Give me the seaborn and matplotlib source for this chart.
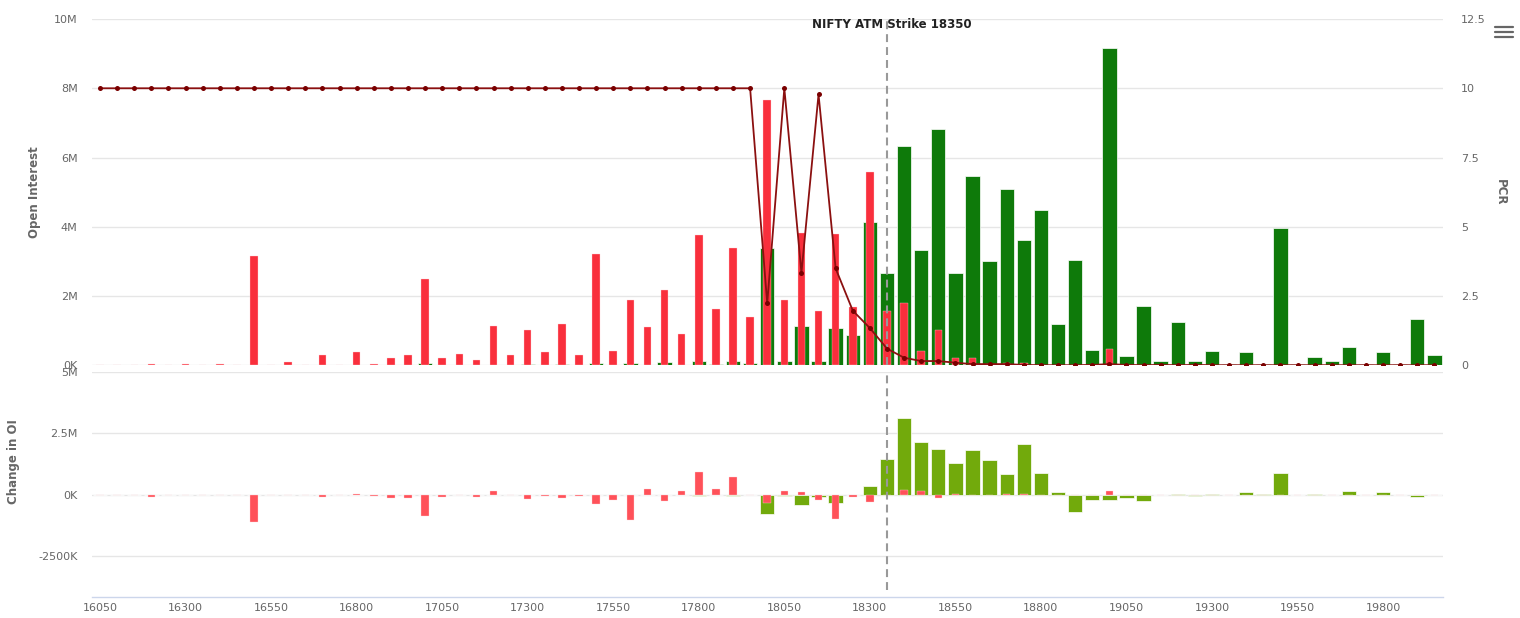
import numpy as np
import pandas as pd
import matplotlib
matplotlib.use("Agg")
import matplotlib.pyplot as plt
import seaborn as sns
from matplotlib.lines import Line2D
import matplotlib.transforms as mtransforms

# ---------------- data ----------------
strikes = [str(s) for s in range(16050, 20000, 50)]  # 79 strike categories

call_oi = [0, 0, 0, 0, 0, 0, 0, 0, 0, 0,
           0, 0, 0, 0, 0, 0, 0, 0, 0, 0.06,
           0.01, 0.02, 0, 0.02, 0, 0.04, 0, 0.04, 0, 0.06,
           0, 0.06, 0, 0.10, 0, 0.13, 0.03, 0.13, 0.06, 3.39,
           0.12, 1.15, 0.14, 1.09, 0.87, 4.13, 2.67, 6.34, 3.32, 6.82,
           2.67, 5.46, 3.02, 5.08, 3.62, 4.49, 1.21, 3.05, 0.46, 9.16,
           0.28, 1.72, 0.12, 1.25, 0.12, 0.43, 0.03, 0.40, 0.04, 3.96,
           0.04, 0.25, 0.12, 0.53, 0.04, 0.40, 0.03, 1.34, 0.31]

put_oi = [0, 0, 0, 0.03, 0, 0.03, 0, 0.03, 0, 3.15,
          0, 0.09, 0, 0.31, 0, 0.40, 0.03, 0.22, 0.31, 2.49,
          0.22, 0.34, 0.15, 1.15, 0.31, 1.03, 0.40, 1.20, 0.31, 3.22,
          0.43, 1.90, 1.12, 2.18, 0.90, 3.76, 1.62, 3.39, 1.40, 7.66,
          1.90, 3.83, 1.58, 3.79, 1.70, 5.57, 1.57, 1.80, 0.43, 1.03,
          0.21, 0.21, 0.05, 0.08, 0.08, 0.02, 0.01, 0.01, 0.01, 0.49,
          0.01, 0.01, 0.01, 0.01, 0.01, 0.01, 0.01, 0.01, 0.01, 0.01,
          0.01, 0.01, 0.01, 0.01, 0.01, 0.01, 0.01, 0.01, 0.01]

pcr = [10, 10, 10, 10, 10, 10, 10, 10, 10, 10,
       10, 10, 10, 10, 10, 10, 10, 10, 10, 10,
       10, 10, 10, 10, 10, 10, 10, 10, 10, 10,
       10, 10, 10, 10, 10, 10, 10, 10, 10, 2.24,
       10, 3.34, 9.78, 3.50, 1.98, 1.35, 0.61, 0.28, 0.16, 0.16,
       0.10, 0.05, 0.05, 0.05, 0.02, 0.01, 0.01, 0.01, 0.02, 0.05,
       0.02, 0.01, 0.02, 0.01, 0.02, 0.01, 0.01, 0.01, 0.01, 0.01,
       0.01, 0.01, 0.01, 0.01, 0.01, 0.01, 0.01, 0.01, 0.01]

call_chg = [0, 0, 0, 0, 0, 0, 0, 0, 0, 0,
            0, 0, 0, 0, 0, 0, 0, 0, 0, 0,
            0, 0, 0, 0, 0, 0, 0, 0, 0, 0,
            0, 0, 0, 0, 0, -0.05, 0, -0.05, 0, -0.79,
            -0.03, -0.40, -0.09, -0.32, 0, 0.38, 1.48, 3.13, 2.14, 1.87,
            1.29, 1.83, 1.44, 0.86, 2.08, 0.90, 0.11, -0.71, -0.19, -0.19,
            -0.11, -0.23, 0, 0.04, -0.05, 0.04, 0, 0.12, 0.04, 0.90,
            0, 0.04, 0, 0.16, 0, 0.12, 0, -0.10, 0]

put_chg = [0, 0, 0, -0.08, 0, 0, 0, 0, 0, -1.10,
           0, 0, 0, -0.08, 0, 0.04, -0.06, -0.11, -0.11, -0.85,
           -0.10, 0, -0.07, 0.16, 0, -0.15, -0.04, -0.13, -0.04, -0.36,
           -0.19, -1.02, 0.24, -0.23, 0.16, 0.94, 0.24, 0.73, 0, -0.31,
           0.16, 0.12, -0.19, -0.98, -0.09, -0.27, 0, 0.20, 0.16, -0.13,
           0.02, 0, 0, 0.02, 0.02, 0, 0, 0, 0, 0.16,
           0, 0, 0, 0, 0, 0, 0, 0, 0, 0,
           0, 0, 0, 0, 0, 0, 0, 0, 0]

atm_strike = "18350"
oi_ticks = [0, 2, 4, 6, 8, 10]
oi_tick_labels = ["0K", "2M", "4M", "6M", "8M", "10M"]
pcr_ticks = [0, 2.5, 5, 7.5, 10, 12.5]
pcr_tick_labels = ["0", "2.5", "5", "7.5", "10", "12.5"]
chg_ticks = [-2.5, 0, 2.5, 5]
chg_tick_labels = ["-2500K", "0K", "2.5M", "5M"]

# ---------------- style ----------------
sns.set_theme(style="white")
plt.rcParams['font.family'] = ['DejaVu Sans']

GREEN = "#0e7a0a"
RED = "#f92f3c"
GREEN2 = "#72aa0c"
RED2 = "#ff5159"
GRID = "#e6e6e6"
TXT = "#666666"

N = len(strikes)
M = 1e6
df = pd.DataFrame({
    "strike": strikes,
    "call_oi": np.array(call_oi) * M,
    "put_oi": np.array(put_oi) * M,
    "pcr": pcr,
    "call_chg": np.array(call_chg) * M,
    "put_chg": np.array(put_chg) * M,
})
atm_idx = strikes.index(atm_strike)

fig = plt.figure(figsize=(15.2, 6.18), dpi=100)
ax_top = fig.add_axes([0.0602, 0.4086, 0.8891, 0.5607])
ax_bot = fig.add_axes([0.0602, 0.034, 0.8891, 0.364])

# ---- top panel: open interest ----
sns.barplot(data=df, x="strike", y="call_oi", order=strikes, color=GREEN,
            saturation=1, width=0.84, edgecolor="white", linewidth=0.5,
            errorbar=None, ax=ax_top)
sns.barplot(data=df, x="strike", y="put_oi", order=strikes, color=RED,
            saturation=1, width=0.44, edgecolor="#ffd0d4", linewidth=0.25,
            errorbar=None, ax=ax_top)
ax_top.set_xlim(-0.5, N - 0.5)
ax_top.set_ylim(0, 10 * M)
ax_top.set_yticks([t * M for t in oi_ticks])
ax_top.set_yticklabels(oi_tick_labels)
ax_top.set_xticks([])
ax_top.set_xlabel("")
ax_top.set_ylabel("Open Interest", color=TXT, fontsize=8.5, fontweight="bold")
ax_top.yaxis.set_label_coords(-0.0374, 0.5)
ax_top.grid(axis="y", color=GRID, lw=1)
ax_top.set_axisbelow(True)
ax_top.tick_params(axis="y", length=0, pad=10, labelsize=8, labelcolor=TXT)
for s in ax_top.spines.values():
    s.set_visible(False)

ax_top.axvline(atm_idx, color="#999999", lw=1.5, dashes=(3.8, 2.4), zorder=5)
trans = mtransforms.blended_transform_factory(ax_top.transData, ax_top.transAxes)
ax_top.text(atm_idx + 0.26, 0.983, "NIFTY ATM Strike " + atm_strike, transform=trans,
            ha="center", va="center", fontsize=8.5, fontweight="bold",
            color="#222222", zorder=6)

# PCR on right axis
ax_pcr = ax_top.twinx()
ax_pcr.set_position(ax_top.get_position())
xs = np.arange(N)
sns.lineplot(x=xs, y=pcr, ax=ax_pcr, color="#8b1010", linewidth=1.3,
             marker="o", markersize=3.6, markeredgewidth=0,
             markerfacecolor="#7a0000")
ax_pcr.set_ylim(0, 12.5)
ax_pcr.set_xlim(-0.5, N - 0.5)
ax_pcr.set_yticks(pcr_ticks)
ax_pcr.set_yticklabels(pcr_tick_labels)
ax_pcr.tick_params(axis="y", length=0, pad=13, labelsize=8, labelcolor=TXT)
ax_pcr.set_ylabel("PCR", color=TXT, fontsize=8.5, fontweight="bold", rotation=270)
ax_pcr.yaxis.set_label_coords(1.0474, 0.5)
ax_pcr.grid(False)
for s in ax_pcr.spines.values():
    s.set_visible(False)

# ---- bottom panel: change in OI ----
sns.barplot(data=df, x="strike", y="call_chg", order=strikes, color=GREEN2,
            saturation=1, width=0.84, edgecolor="white", linewidth=0.5,
            errorbar=None, ax=ax_bot)
sns.barplot(data=df, x="strike", y="put_chg", order=strikes, color=RED2,
            saturation=1, width=0.44, edgecolor="#ffd6d8", linewidth=0.25,
            errorbar=None, ax=ax_bot)
ax_bot.set_xlim(-0.5, N - 0.5)
ax_bot.set_ylim(-4.15 * M, 5 * M)
ax_bot.set_yticks([t * M for t in chg_ticks])
ax_bot.set_yticklabels(chg_tick_labels)
tick_pos = list(range(0, N, 5))
ax_bot.set_xticks(tick_pos)
ax_bot.set_xticklabels([strikes[i] for i in tick_pos])
ax_bot.set_xlabel("")
ax_bot.set_ylabel("Change in OI", color=TXT, fontsize=8.5, fontweight="bold")
ax_bot.yaxis.set_label_coords(-0.0529, 0.6)
ax_bot.grid(axis="y", color=GRID, lw=1)
ax_bot.set_axisbelow(True)
ax_bot.tick_params(axis="y", length=0, pad=10, labelsize=8, labelcolor=TXT)
ax_bot.tick_params(axis="x", length=0, pad=4, labelsize=8, labelcolor=TXT)
for k, s in ax_bot.spines.items():
    s.set_visible(k == "bottom")
ax_bot.spines["bottom"].set_color("#ccd6eb")
ax_bot.spines["bottom"].set_linewidth(1)
ax_bot.axvline(atm_idx, ymin=0.03, ymax=1, color="#999999", lw=1.5,
               dashes=(3.8, 2.4), zorder=5)

# menu icon
for yy in (26.5, 31.5, 36.5):
    fig.add_artist(Line2D([1495 / 1520, 1513 / 1520], [1 - yy / 618] * 2,
                          color="#666666", lw=1.6, solid_capstyle="round"))

fig.savefig("out.png", dpi=100)
